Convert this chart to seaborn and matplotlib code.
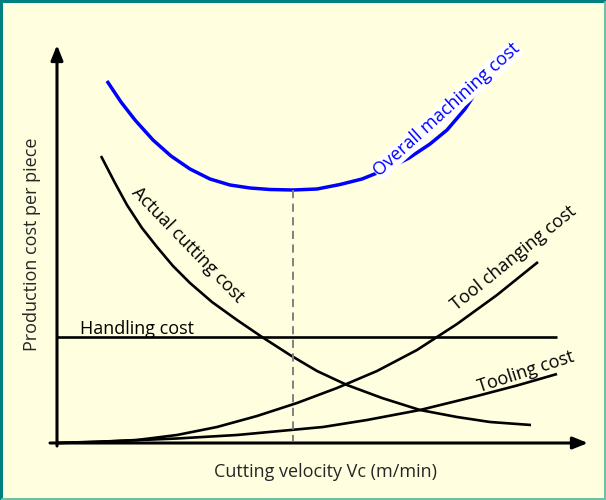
import numpy as np
import pandas as pd
import matplotlib
matplotlib.use('Agg')
import matplotlib.pyplot as plt
import seaborn as sns
from matplotlib.lines import Line2D

# values (velocity, cost in arbitrary picture units)
overall_v = [50, 64, 78, 96, 114, 133, 153, 173, 193, 213, 236, 260, 283, 305, 330, 352, 373, 390, 408, 425]
overall_c = [362, 341, 323, 303, 287, 274, 264, 258, 255, 253.5, 253, 254, 258.5, 264, 274, 285, 299, 313, 334, 360]

cutting_v = [44, 58, 70, 85, 100, 116, 133, 155, 180, 205, 233, 260, 290, 325, 363, 400, 433, 474]
cutting_c = [287, 260, 238, 215, 196, 177, 160, 141, 123, 106, 88, 72, 58, 45, 33, 26, 21, 18]

toolchg_v = [0, 40, 80, 120, 160, 200, 240, 280, 320, 360, 400, 440, 481]
toolchg_c = [0, 1, 3, 8, 16, 27, 40, 55, 72, 93, 119, 148, 181]

tooling_v = [0, 60, 120, 180, 223, 266, 310, 363, 420, 460, 500]
tooling_c = [0, 2, 4.5, 8, 12, 16, 23, 33, 47, 57.5, 69]

handling_v = [0, 500]
handling_c = [106, 106]

optimum_v = 236
optimum_c = 253

sns.set_theme(style='white')
plt.rcParams['font.family'] = ['Open Sans', 'DejaVu Sans']

bg = '#FFFFE0'
fig = plt.figure(figsize=(6.06, 5.0), dpi=100, facecolor=bg)
ax = fig.add_axes([0, 0, 1, 1])
ax.set_facecolor(bg)
ax.set_xlim(-57, 549)
ax.set_ylim(-57, 443)
ax.axis('off')

# curves
kw = dict(sort=False, estimator=None, ax=ax, solid_joinstyle='round', solid_capstyle='butt')
sns.lineplot(x=overall_v, y=overall_c, color='#0000FF', lw=2.5, **kw)
sns.lineplot(x=cutting_v, y=cutting_c, color='black', lw=1.9, **kw)
sns.lineplot(x=toolchg_v, y=toolchg_c, color='black', lw=1.9, **kw)
sns.lineplot(x=tooling_v, y=tooling_c, color='black', lw=1.9, **kw)
sns.lineplot(x=handling_v, y=handling_c, color='black', lw=1.9, **kw)

# optimum marker line
ax.plot([optimum_v, optimum_v], [optimum_c, 2], color='#808080', lw=1.4, dashes=(4.2, 2.8))

# axes with arrows
arr = dict(arrowstyle='-|>,head_length=0.75,head_width=0.3', lw=2.2, color='black',
           shrinkA=0, shrinkB=0)
ax.annotate('', xy=(0, 398), xytext=(0, -3), arrowprops=arr)
ax.annotate('', xy=(531, 0), xytext=(-7, 0), arrowprops=arr)

fs = 13
ax.text(23, 109, 'Handling cost', fontsize=fs, color='black', va='baseline', ha='left')
ax.text(390, 333, 'Overall machining cost', fontsize=fs, color='#0000FF', rotation=42,
        ha='center', va='center', rotation_mode='anchor',
        bbox=dict(facecolor='white', edgecolor='none', pad=0.3))
ax.text(131, 198, 'Actual cutting cost', fontsize=fs, color='black', rotation=-46,
        ha='center', va='center', rotation_mode='anchor')
ax.text(457, 185, 'Tool changing cost', fontsize=fs, color='black', rotation=39,
        ha='center', va='center', rotation_mode='anchor')
ax.text(469, 71, 'Tooling cost', fontsize=fs, color='black', rotation=18,
        ha='center', va='center', rotation_mode='anchor')

ax.text(268, -29, 'Cutting velocity Vc (m/min)', fontsize=fs, ha='center', va='center')
ax.text(-25, 199, 'Production cost per piece', fontsize=fs, ha='center', va='center', rotation=90)

# frame
fig.add_artist(Line2D([0.002, 0.002], [0, 1], transform=fig.transFigure, color='#008080', lw=2.2))
fig.add_artist(Line2D([0, 1], [0.998, 0.998], transform=fig.transFigure, color='#008080', lw=2.2))
fig.add_artist(Line2D([0.998, 0.998], [0, 0.996], transform=fig.transFigure, color='#70C0A8', lw=2.2))
fig.add_artist(Line2D([0.004, 1], [0.002, 0.002], transform=fig.transFigure, color='#70C0A8', lw=2.2))

fig.savefig('out.png', dpi=100, facecolor=bg)
